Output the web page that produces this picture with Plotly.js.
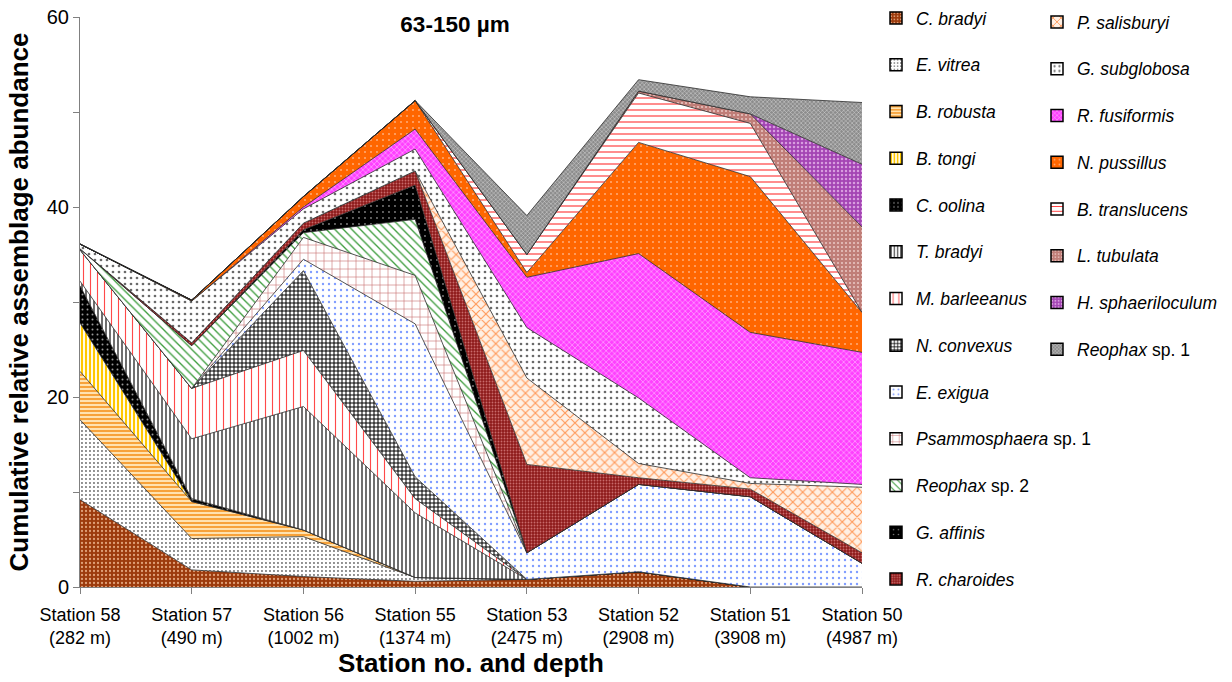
<!DOCTYPE html>
<html><head><meta charset="utf-8">
<script src="https://cdn.plot.ly/plotly-3.0.1.min.js"></script>
<style>html,body{margin:0;padding:0;background:#fff}#chart{width:1232px;height:682px}</style>
</head><body><div id="chart"></div>
<script>
const stations = ['Station 58','Station 57','Station 56','Station 55','Station 53','Station 52','Station 51','Station 50'];
const depths = ['(282 m)','(490 m)','(1002 m)','(1374 m)','(2475 m)','(2908 m)','(3908 m)','(4987 m)'];

const cBradyi        = [9.2, 1.8, 1.1, 0.6, 0.8, 1.6, 0.0, 0.0];
const eVitrea        = [8.4, 3.3, 4.2, 0.4, 0.0, 0.0, 0.0, 0.0];
const bRobusta       = [5.1, 3.9, 0.7, 0.0, 0.0, 0.0, 0.0, 0.0];
const bTongi         = [5.1, 0.0, 0.0, 0.0, 0.0, 0.0, 0.0, 0.0];
const cOolina        = [3.9, 0.3, 0.0, 0.0, 0.0, 0.0, 0.0, 0.0];
const tBradyi        = [0.5, 6.3, 13.0, 6.8, 0.0, 0.0, 0.0, 0.0];
const mBarleeanus    = [3.3, 5.3, 5.9, 1.5, 0.0, 0.0, 0.0, 0.0];
const nConvexus      = [0.0, 0.0, 8.4, 2.3, 0.0, 0.0, 0.0, 0.0];
const eExigua        = [0.0, 0.0, 1.2, 16.1, 2.8, 9.2, 9.5, 2.5];
const psammosphaera  = [0.0, 0.0, 2.3, 5.1, 0.0, 0.0, 0.0, 0.0];
const reophax2       = [0.1, 4.5, 0.5, 5.9, 0.0, 0.0, 0.0, 0.0];
const gAffinis       = [0.0, 0.0, 0.3, 3.6, 0.0, 0.0, 0.0, 0.0];
const rCharoides     = [0.0, 0.3, 0.7, 1.5, 9.3, 0.7, 0.8, 1.1];
const pSalisburyi    = [0.0, 0.0, 0.0, 0.0, 9.1, 1.5, 0.6, 6.9];
const gSubglobosa    = [0.5, 4.4, 1.5, 2.3, 5.3, 6.9, 0.6, 0.3];
const rFusiformis    = [0.0, 0.0, 0.2, 2.1, 5.3, 15.2, 15.3, 13.9];
const nPussillus     = [0.0, 0.1, 1.1, 3.0, 0.5, 11.7, 16.4, 4.2];
const bTranslucens   = [0.0, 0.0, 0.0, 0.0, 1.9, 5.2, 5.6, 0.0];
const lTubulata      = [0.0, 0.0, 0.0, 0.0, 0.0, 0.2, 1.0, 9.0];
const hSphaeriloculum= [0.0, 0.0, 0.0, 0.0, 0.0, 0.0, 0.0, 6.6];
const reophax1       = [0.0, 0.0, 0.0, 0.0, 4.1, 1.2, 1.8, 6.5];

const labels = stations.map((s, i) => s + '<br>' + depths[i]);

const series = [
  {name:'<i>C. bradyi</i>', y:cBradyi, bg:'#9c3a0c', fg:'#e0a078', shape:'.', size:4, sol:0.25, lg:'legend'},
  {name:'<i>E. vitrea</i>', y:eVitrea, bg:'#ffffff', fg:'#6a6a6a', shape:'.', size:4, sol:0.18, lg:'legend'},
  {name:'<i>B. robusta</i>', y:bRobusta, bg:'#ffe2b0', fg:'#f7a23a', shape:'-', size:4, sol:0.5, lg:'legend'},
  {name:'<i>B. tongi</i>', y:bTongi, bg:'#ffffff', fg:'#ffc800', shape:'|', size:4, sol:0.55, lg:'legend'},
  {name:'<i>C. oolina</i>', y:cOolina, bg:'#000000', fg:'#9a9a9a', shape:'.', size:5, sol:0.12, lg:'legend'},
  {name:'<i>T. bradyi</i>', y:tBradyi, bg:'#ffffff', fg:'#303030', shape:'|', size:4, sol:0.35, lg:'legend'},
  {name:'<i>M. barleeanus</i>', y:mBarleeanus, bg:'#ffffff', fg:'#ff4a4a', shape:'|', size:7, sol:0.16, lg:'legend'},
  {name:'<i>N. convexus</i>', y:nConvexus, bg:'#ffffff', fg:'#000000', shape:'+', size:4, sol:0.45, lg:'legend'},
  {name:'<i>E. exigua</i>', y:eExigua, bg:'#ffffff', fg:'#7f9cff', shape:'.', size:6, sol:0.12, lg:'legend'},
  {name:'<i>Psammosphaera</i> sp. 1', y:psammosphaera, bg:'#ffffff', fg:'#c46a6a', shape:'+', size:8, sol:0.14, lg:'legend'},
  {name:'<i>Reophax</i> sp. 2', y:reophax2, bg:'#ffffff', fg:'#3c9c3c', shape:'\\', size:6, sol:0.22, lg:'legend'},
  {name:'<i>G. affinis</i>', y:gAffinis, bg:'#000000', fg:'#808080', shape:'.', size:6, sol:0.08, lg:'legend'},
  {name:'<i>R. charoides</i>', y:rCharoides, bg:'#8e1a1a', fg:'#c86a6a', shape:'.', size:3, sol:0.3, lg:'legend'},
  {name:'<i>P. salisburyi</i>', y:pSalisburyi, bg:'#fff0e4', fg:'#ff9a5a', shape:'x', size:7, sol:0.3, lg:'legend2'},
  {name:'<i>G. subglobosa</i>', y:gSubglobosa, bg:'#ffffff', fg:'#6a6a6a', shape:'.', size:6, sol:0.16, lg:'legend2'},
  {name:'<i>R. fusiformis</i>', y:rFusiformis, bg:'#ff40ff', fg:'#ffc8ff', shape:'x', size:4, sol:0.25, lg:'legend2'},
  {name:'<i>N. pussillus</i>', y:nPussillus, bg:'#ff6600', fg:'#ffa870', shape:'.', size:6, sol:0.1, lg:'legend2'},
  {name:'<i>B. translucens</i>', y:bTranslucens, bg:'#ffffff', fg:'#ff4040', shape:'-', size:6, sol:0.2, lg:'legend2'},
  {name:'<i>L. tubulata</i>', y:lTubulata, bg:'#c07e78', fg:'#e8c4c0', shape:'.', size:4, sol:0.22, lg:'legend2'},
  {name:'<i>H. sphaeriloculum</i>', y:hSphaeriloculum, bg:'#a444b4', fg:'#d89ce0', shape:'.', size:4, sol:0.3, lg:'legend2'},
  {name:'<i>Reophax</i> sp. 1', y:reophax1, bg:'#8c8c8c', fg:'#d8d8d8', shape:'x', size:3, sol:0.3, lg:'legend2'}
];

const FONT = 'Liberation Sans, Arial, sans-serif';
const traces = [];
series.forEach((s, i) => {
  traces.push({
    type:'scatter', mode:'lines', x:labels, y:s.y, stackgroup:'one',
    fill: i === 0 ? 'tozeroy' : 'tonexty',
    line:{color:'#2a2a2a', width:0.8, shape:'linear'},
    fillpattern:{shape:s.shape, bgcolor:s.bg, fgcolor:s.fg, size:s.size, solidity:s.sol, fillmode:'replace'},
    showlegend:false, hoverinfo:'skip', name:s.name
  });
});
// legend swatches: bars on a hidden overlay axis pair, kept outside its visible range
series.forEach((s, i) => {
  traces.push({
    type:'bar', x:[0], y:[1], xaxis:'x2', yaxis:'y2',
    name:s.name, legend:s.lg, legendgroup:'g'+i, showlegend:true, hoverinfo:'skip',
    marker:{color:s.bg, line:{color:'#000', width:1.5},
      pattern:{shape:s.shape, bgcolor:s.bg, fgcolor:s.fg, size:s.size, solidity:s.sol, fillmode:'replace'}}
  });
});

const legendBase = {xref:'container', yref:'container', xanchor:'left', yanchor:'top',
  font:{family:FONT, size:17.5, color:'#000'}, tracegroupgap:21, bgcolor:'rgba(0,0,0,0)',
  traceorder:'grouped', borderwidth:0, maxheight:682};

const layout = {
  width:1232, height:682,
  margin:{l:80, r:370, t:17, b:95, pad:0, autoexpand:false},
  paper_bgcolor:'#fff', plot_bgcolor:'#fff',
  font:{family:FONT, color:'#000'},
  hovermode:false,
  showlegend:true,
  title:{text:'<b>63-150 µm</b>', x:455/1232, xref:'container', xanchor:'center',
    y:1 - 24/682, yref:'container', yanchor:'middle', font:{family:FONT, size:22.5, color:'#000'}},
  xaxis:{type:'category', range:[0, 7], showgrid:false, zeroline:false,
    showline:true, linecolor:'#808080', linewidth:1,
    ticks:'outside', ticklen:6, tickcolor:'#808080', tickwidth:1, ticklabelstandoff:5,
    tickfont:{family:FONT, size:18, color:'#000'},
    title:{text:'<b>Station no. and depth</b>', font:{family:FONT, size:26, color:'#000'}, standoff:4}},
  yaxis:{range:[0, 60], tick0:0, dtick:20, showgrid:false, zeroline:false,
    showline:true, linecolor:'#808080', linewidth:1,
    ticks:'outside', ticklen:6, tickcolor:'#808080', tickwidth:1,
    minor:{dtick:10, ticks:'outside', ticklen:6, tickcolor:'#808080', showgrid:false},
    tickfont:{family:FONT, size:20, color:'#000'},
    title:{text:'<b>Cumulative relative assemblage abundance</b>', font:{family:FONT, size:26, color:'#000'}, standoff:10}},
  xaxis2:{overlaying:'x', visible:false, range:[-1, 1], fixedrange:true},
  yaxis2:{overlaying:'y', visible:false, range:[10, 20], fixedrange:true},
  legend:Object.assign({}, legendBase, {x:876/1232, y:1.0}),
  legend2:Object.assign({}, legendBase, {x:1037/1232, y:1 - 4/682})
};

Plotly.newPlot('chart', traces, layout, {displayModeBar:false, staticPlot:true});
</script>
</body></html>
